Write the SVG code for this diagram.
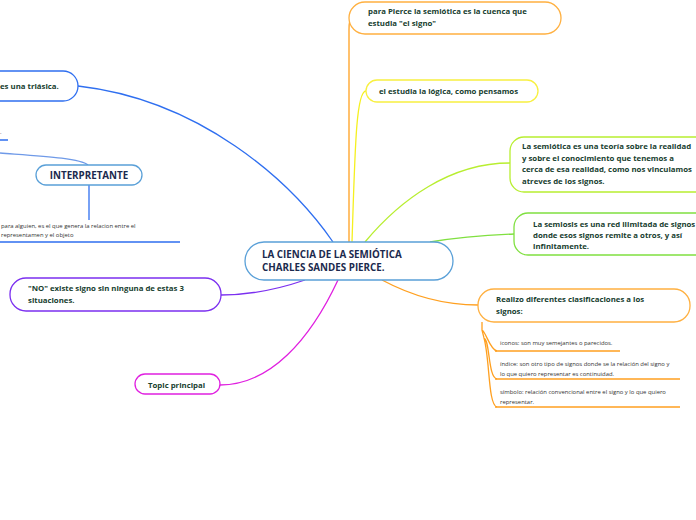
<svg xmlns="http://www.w3.org/2000/svg" width="696" height="520" viewBox="0 0 696 520">
<style>
.t{font-family:"Open Sans","Noto Sans","Liberation Sans",sans-serif;font-weight:bold;font-size:7.8px;fill:#17402f}
.c{font-family:"Open Sans","Noto Sans","Liberation Sans",sans-serif;font-weight:bold;font-size:9.8px;fill:#1b2a4e}
.s{font-family:"Open Sans","Noto Sans","Liberation Sans",sans-serif;font-size:5.9px;fill:#333}
.n{fill:#fff;stroke-width:1.3}
.l{fill:none;stroke-width:1.3}
</style>
<rect width="696" height="520" fill="#fff"/>
<g id="connectors">
<path class="l" stroke="#ffa020" d="M349,242 L349,30 Q349,18 352,18"/>
<path class="l" stroke="#f5f020" d="M352,242 C355,150 356,91 366,91"/>
<path class="l" stroke="#b8ee30" d="M365,242 C400,200 450,163 510,163"/>
<path class="l" stroke="#80e040" d="M430,242 C460,237 490,235 514,234"/>
<path class="l" stroke="#ffa020" d="M382,280 C410,295 440,305 478,305"/>
<path class="l" stroke="#2f6ff0" d="M333,242 C290,180 200,100 78,86"/>
<path class="l" stroke="#6f9ae8" d="M0,153 C40,156 80,158 88,165"/>
<path class="l" stroke="#2f6ff0" d="M89,185 L89,220"/>
<path class="l" stroke="#7b2ff0" d="M305,280 C270,292 240,295 221,295"/>
<path class="l" stroke="#e020e0" d="M338,280 C310,340 270,385 220,385"/>
<path class="l" stroke="#ffa020" d="M482,322 L482,330 C486,332 490,350 497,351 M482,330 L484,338 C490,340 488,378 497,379 M484,338 C490,360 488,405 497,407"/>
<path class="l" stroke="#ffa020" d="M495,351 H620 M495,379 H680 M495,407 H680"/>
<path class="l" stroke="#2f6ff0" d="M0,242 H180 M0,140 H8"/>
</g>
<g id="center">
<rect class="n" stroke="#5aa0d8" x="245" y="242" width="208" height="38" rx="19"/>
<text class="c" x="262" y="258">LA CIENCIA DE LA SEMIÓTICA</text>
<text class="c" x="262" y="271">CHARLES SANDES PIERCE.</text>
</g>
<g id="n1">
<rect class="n" stroke="#ffb040" x="349" y="2" width="212" height="32" rx="16"/>
<text class="t" x="368" y="14">para Pierce la semiótica es la cuenca que</text>
<text class="t" x="368" y="26">estudia "el signo"</text>
</g>
<g id="n2">
<rect class="n" stroke="#f8f040" x="366" y="80" width="172" height="22" rx="11"/>
<text class="t" x="379" y="94">el estudia la lógica, como pensamos</text>
</g>
<g id="n3">
<rect class="n" stroke="#b8ee30" x="510" y="137" width="200" height="55" rx="14"/>
<text class="t" x="522" y="149">La semiótica es una teoría sobre la realidad</text>
<text class="t" x="522" y="161">y sobre el conocimiento que tenemos a</text>
<text class="t" x="522" y="172">cerca de esa realidad, como nos vinculamos</text>
<text class="t" x="522" y="184">atreves de los signos.</text>
</g>
<g id="n4">
<rect class="n" stroke="#80e040" x="514" y="213" width="200" height="42" rx="14"/>
<text class="t" x="533" y="227">La semiosis es una red ilimitada de signos</text>
<text class="t" x="533" y="238">donde esos signos remite a otros, y así</text>
<text class="t" x="533" y="249">infinitamente.</text>
</g>
<g id="n5">
<rect class="n" stroke="#ffb040" x="478" y="289" width="212" height="33" rx="16"/>
<text class="t" x="496" y="302">Realizo diferentes clasificaciones a los</text>
<text class="t" x="496" y="314">signos:</text>
</g>
<g id="n5a"><text class="s" x="500" y="345">iconos: son muy semejantes o parecidos.</text></g>
<g id="n5b">
<text class="s" x="500" y="366">índice: son otro tipo de signos donde se la relación del signo y</text>
<text class="s" x="500" y="376">lo que quiero representar es continuidad.</text>
</g>
<g id="n5c">
<text class="s" x="500" y="394">símbolo: relación convencional entre el signo y lo que quiero</text>
<text class="s" x="500" y="404">representar.</text>
</g>
<g id="n6">
<rect class="n" stroke="#2f6ff0" x="-30" y="71" width="108" height="30" rx="15"/>
<text class="t" x="0" y="89">es una triásica.</text>
</g>
<g id="n6a"><text class="s" x="0" y="134">.</text></g>
<g id="n7">
<rect class="n" stroke="#5aa0d8" x="36" y="165" width="106" height="20" rx="10"/>
<text class="c" x="89" y="179" text-anchor="middle" font-size="8.8">INTERPRETANTE</text>
</g>
<g id="n7a">
<text class="s" x="1" y="228">para alguien, es el que genera la relacion entre el</text>
<text class="s" x="1" y="237">representamen y el objeto</text>
</g>
<g id="n8">
<rect class="n" stroke="#7b2ff0" x="10" y="278" width="211" height="33" rx="16"/>
<text class="t" x="28" y="291">"NO" existe signo sin ninguna de estas 3</text>
<text class="t" x="28" y="303">situaciones.</text>
</g>
<g id="n9">
<rect class="n" stroke="#e020e0" x="135" y="374" width="85" height="20" rx="10"/>
<text class="t" x="148" y="388">Topic principal</text>
</g>
</svg>
